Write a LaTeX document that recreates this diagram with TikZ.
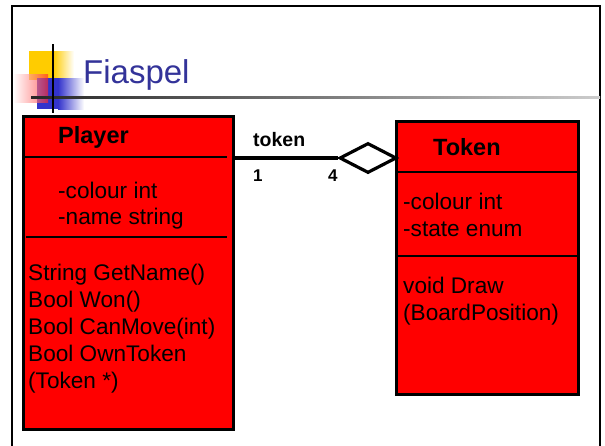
\documentclass[tikz,border=0pt]{standalone}
\usepackage{fontspec}
\setmainfont{Liberation Sans}
\usetikzlibrary{shapes.geometric,shadows}
\definecolor{titleblue}{RGB}{51,51,153}
\definecolor{logoyellow}{RGB}{255,204,0}
\definecolor{logoblue}{RGB}{51,51,204}
\definecolor{logored}{RGB}{255,40,40}
\begin{document}
\begin{tikzpicture}[x=1pt,y=-1pt,
  clsbox/.style={draw=black, fill=red, line width=3pt, inner sep=0pt, anchor=north west,
    general shadow={fill=gray!60, shadow xshift=-1.3pt, shadow yshift=1.3pt}},
  divider/.style={line width=2.6pt},
  txt/.style={anchor=base west, inner sep=0pt, font=\fontsize{22.6}{26}\selectfont},
  hdr/.style={anchor=base west, inner sep=0pt, font=\fontsize{23.5}{27}\selectfont\bfseries},
  lbl/.style={anchor=base west, inner sep=0pt, font=\fontsize{19.5}{22}\selectfont\bfseries},
  mult/.style={anchor=base west, inner sep=0pt, font=\fontsize{17}{20}\selectfont\bfseries},
  conn/.style={line width=3.5pt},
  aggr/.style={diamond, draw=black, fill=white, line width=3.2pt, inner sep=0pt,
    minimum width=57pt, minimum height=30pt}]
\useasboundingbox (0,0) rectangle (605,445);
% outer frame
\draw[line width=2.2pt] (12,450) -- (12,6) -- (600,6) -- (600,450);
% logo
\fill[logoyellow] (29,51) rectangle (53,80);
\shade[left color=logoyellow, right color=white] (53,51) rectangle (74,80);
\fill[logoblue] (37,78) rectangle (58,109);
\shade[left color=logoblue, right color=white] (58,78) rectangle (84,109);
\shade[left color=white, right color=logored, fill opacity=0.65] (13,74) rectangle (48,102);
\shade[left color=black!85, right color=black!20] (31,96) rectangle (600,98.5);
\draw[line width=2.5pt] (53,44) -- (53,113);
% title
\node[anchor=base west, inner sep=0pt, text=titleblue, font=\fontsize{33}{38}\selectfont] (title) at (83,83) {Fiaspel};
% Player class
\node[clsbox, minimum width=210pt, minimum height=313pt] (player) at (21.5,114.5) {};
\draw[divider] (22,157) -- (227,157);
\draw[divider] (26,237) -- (227,237);
\node[hdr] (pname) at (58,143) {Player};
\node[txt] (pa1) at (58,198) {-colour int};
\node[txt] (pa2) at (58,224) {-name string};
\node[txt] (pm1) at (28,280) {String GetName()};
\node[txt] (pm2) at (28,307) {Bool Won()};
\node[txt] (pm3) at (28,334) {Bool CanMove(int)};
\node[txt] (pm4) at (28,361) {Bool OwnToken};
\node[txt] (pm5) at (28,388) {(Token *)};
% Token class
\node[clsbox, minimum width=182pt, minimum height=273pt] (token) at (395,119.5) {};
\draw[divider] (token.west |- 0,172) -- (token.east |- 0,172);
\draw[divider] (token.west |- 0,256) -- (token.east |- 0,256);
\node[hdr] (tname) at (433,155) {Token};
\node[txt] (ta1) at (403,209) {-colour int};
\node[txt] (ta2) at (403,236) {-state enum};
\node[txt] (tm1) at (403,293) {void Draw};
\node[txt] (tm2) at (403,320) {(BoardPosition)};
% aggregation
\node[aggr] (agg) at (368,158) {};
\draw[conn] (agg.west -| player.east) -- (agg.west);
\node[lbl] (rolelbl) at (253,146) {token};
\node[mult] (m1) at (253,181) {1};
\node[mult] (m4) at (328,181) {4};
\end{tikzpicture}
\end{document}
